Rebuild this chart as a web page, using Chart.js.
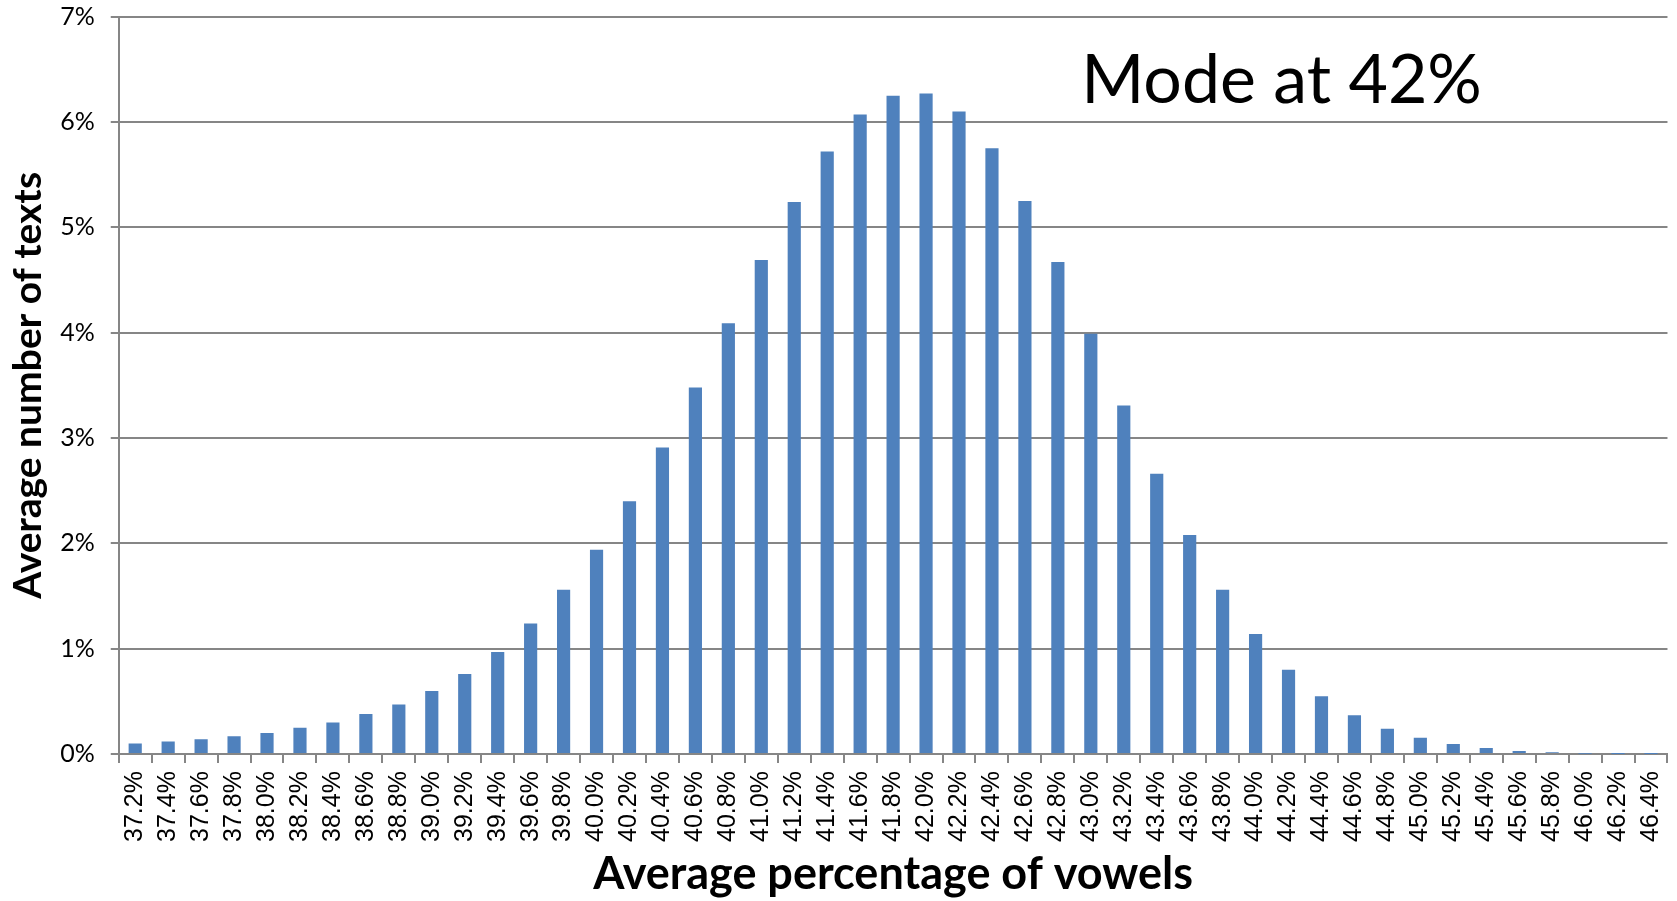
<!DOCTYPE html>
<html>
<head>
<meta charset="utf-8">
<script src="https://cdn.jsdelivr.net/npm/chart.js@4.4.1/dist/chart.umd.min.js"></script>
<style>
  body { margin: 0; background: #fff; }
  #outer { width: 1677px; height: 901px; overflow: hidden; }
  #wrap { width: 1689px; height: 901px; position: relative; }
</style>
</head>
<body>
<div id="outer"><div id="wrap"><canvas id="myChart"></canvas></div></div>
<script>
const vowelLabels = ['37.2%', '37.4%', '37.6%', '37.8%', '38.0%', '38.2%', '38.4%', '38.6%', '38.8%', '39.0%',
  '39.2%', '39.4%', '39.6%', '39.8%', '40.0%', '40.2%', '40.4%', '40.6%', '40.8%', '41.0%',
  '41.2%', '41.4%', '41.6%', '41.8%', '42.0%', '42.2%', '42.4%', '42.6%', '42.8%', '43.0%',
  '43.2%', '43.4%', '43.6%', '43.8%', '44.0%', '44.2%', '44.4%', '44.6%', '44.8%', '45.0%',
  '45.2%', '45.4%', '45.6%', '45.8%', '46.0%', '46.2%', '46.4%'];

const textShare = [0.10, 0.12, 0.14, 0.17, 0.20, 0.25, 0.30, 0.38, 0.47, 0.60,
  0.76, 0.97, 1.24, 1.56, 1.94, 2.40, 2.91, 3.48, 4.09, 4.69,
  5.24, 5.72, 6.07, 6.25, 6.27, 6.10, 5.75, 5.25, 4.67, 3.99,
  3.31, 2.66, 2.08, 1.56, 1.14, 0.80, 0.55, 0.37, 0.24, 0.155,
  0.095, 0.057, 0.03, 0.018, 0.004, 0.002, 0.001];

const yTicks = [0, 1, 2, 3, 4, 5, 6, 7];
const modeNote = 'Mode at 42%';

const axisGrey = '#868686';

// big "Mode at 42%" note inside the plot
const modeText = {
  id: 'modeText',
  afterDraw(chart) {
    const { ctx, chartArea } = chart;
    ctx.save();
    ctx.font = '68px Lato';
    ctx.fillStyle = '#000';
    ctx.textBaseline = 'alphabetic';
    ctx.textAlign = 'left';
    const x = chartArea.left + (chartArea.right - chartArea.left) * 0.6215;
    ctx.fillText(modeNote, x, chartArea.top + 86);
    ctx.restore();
  }
};

const ctx = document.getElementById('myChart').getContext('2d');

const myChart = new Chart(ctx, {
  type: 'bar',
  data: {
    labels: vowelLabels,
    datasets: [{
      label: 'texts',
      data: textShare,
      backgroundColor: '#4F81BD',
      barPercentage: 0.8,
      categoryPercentage: 0.5
    }]
  },
  options: {
    responsive: true,
    maintainAspectRatio: false,
    animation: false,
    layout: { padding: { top: 0, right: 0, bottom: 4, left: 4 } },
    plugins: {
      legend: { display: false },
      tooltip: { enabled: false }
    },
    scales: {
      x: {
        grid: {
          offset: true,
          drawOnChartArea: false,
          tickLength: 9,
          color: axisGrey,
          lineWidth: 2
        },
        border: { color: axisGrey, width: 2 },
        ticks: {
          autoSkip: false,
          minRotation: 90,
          maxRotation: 90,
          padding: 8,
          color: '#000',
          font: { family: 'Liberation Sans', size: 25 }
        },
        title: {
          display: true,
          text: 'Average percentage of vowels',
          color: '#000',
          font: { family: 'Lato', size: 45, weight: 'bold', lineHeight: 1.0 },
          padding: { top: 2, bottom: 0 }
        }
      },
      y: {
        min: 0,
        max: 7,
        afterBuildTicks(axis) {
          axis.ticks = yTicks.map(v => ({ value: v }));
        },
        grid: {
          tickLength: 8,
          color: axisGrey,
          lineWidth: 2
        },
        border: { color: axisGrey, width: 2 },
        ticks: {
          padding: 16,
          color: '#000',
          font: { family: 'Lato', size: 25, lineHeight: 0.05 },
          callback: v => v + '%'
        },
        title: {
          display: true,
          text: 'Average number of texts',
          color: '#000',
          font: { family: 'Lato', size: 39, weight: 'bold', lineHeight: 0.8 },
          padding: { top: 9, bottom: 0 }
        }
      }
    }
  },
  plugins: [modeText]
});
</script>
</body>
</html>
